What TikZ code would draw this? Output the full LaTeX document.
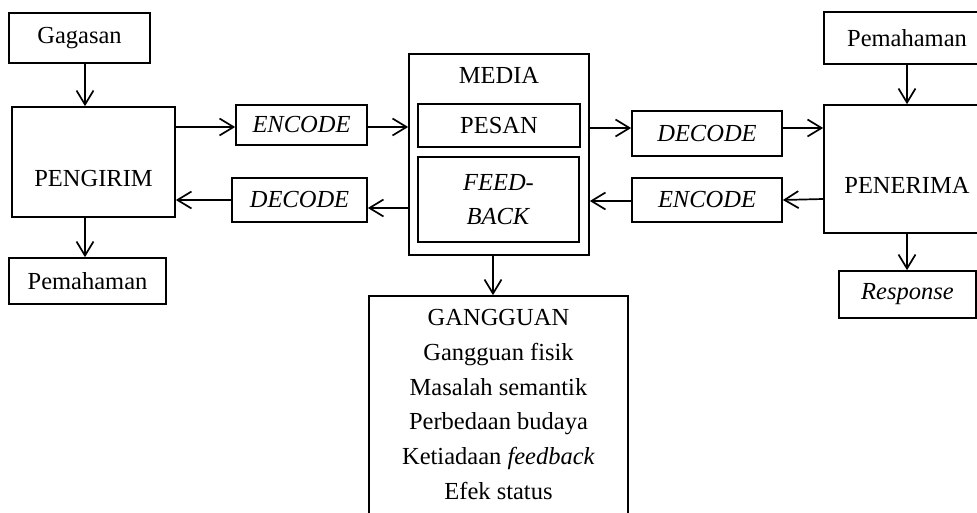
\documentclass[tikz,border=0pt]{standalone}
\usepackage{fontspec}
\setmainfont{Liberation Serif}
\usetikzlibrary{arrows.meta}

\begin{document}
\begin{tikzpicture}[x=1pt,y=-1pt,
            every node/.style={font=\fontsize{24.5}{34.8}\selectfont},
            kotak/.style={draw, line width=1.7pt, inner sep=0pt, align=center},
            panah/.style={-{Straight Barb[length=14pt,width=17pt]}, line width=1.7pt}]
            \path[fill=white, use as bounding box] (0,0) rectangle (977,513);
            \clip (0,0) rectangle (977,513);
            % pengirim
            \node at (79.5,38) [kotak, minimum width=141pt, minimum height=50pt] (gagasan) {Gagasan};
            \node at (93.5,162) [kotak, minimum width=163pt, minimum height=110pt, label={[yshift=-16.5pt]center:PENGIRIM}] (pengirim) {};
            \node at (87.5,281) [kotak, minimum width=157pt, minimum height=46pt] (pemahaman1) {Pemahaman};
            \node at (301.5,125) [kotak, minimum width=131pt, minimum height=40pt] (encode1) {\textit{ENCODE}};
            \node at (299.5,200) [kotak, minimum width=135pt, minimum height=44pt] (decode1) {\textit{DECODE}};
            % media
            \node at (499,154.5) [kotak, minimum width=180pt, minimum height=201pt, label={[anchor=north, yshift=-14pt, inner sep=0pt]north:MEDIA}] (media) {};
            \node at (499,125.5) [kotak, minimum width=162pt, minimum height=43pt] (pesan) {PESAN};
            \node at (498.5,199.5) [kotak, minimum width=161pt, minimum height=85pt] (feedback) {\textit{FEED-}\\\textit{BACK}};
            \node at (498.5,418) [kotak, minimum width=259pt, minimum height=244pt, label={[anchor=north, yshift=-14pt, inner sep=0pt, align=center]north:GANGGUAN\\Gangguan fisik\\Masalah semantik\\Perbedaan budaya\\Ketiadaan \textit{feedback}\\Efek status}] (gangguan) {};
            % penerima
            \node at (707,133.5) [kotak, minimum width=150pt, minimum height=45pt] (decode2) {\textit{DECODE}};
            \node at (707,200) [kotak, minimum width=150pt, minimum height=44pt] (encode2) {\textit{ENCODE}};
            \node at (907,38) [kotak, minimum width=166pt, minimum height=52pt] (pemahaman2) {Pemahaman};
            \node at (907,169) [kotak, minimum width=166pt, minimum height=128pt, label={[yshift=-16pt]center:PENERIMA}] (penerima) {};
            \node at (907.5,294.5) [kotak, minimum width=137pt, minimum height=47pt] (response) {\textit{Response}};
            % panah
            \draw[panah] ([xshift=5.5pt]gagasan.south) -- ([xshift=-8.5pt]pengirim.north);
            \draw[panah] ([xshift=-8.5pt]pengirim.south) -- ([xshift=-2.5pt]pemahaman1.north);
            \draw[panah] ([yshift=35pt]pengirim.east) -- ([yshift=-2pt]encode1.west);
            \draw[panah] ([yshift=-2pt]encode1.east) -- ([yshift=27.5pt]media.west);
            \draw[panah] ([yshift=-53.5pt]media.west) -- ([yshift=-8pt]decode1.east);
            \draw[panah] (decode1.west) -- ([yshift=-38pt]pengirim.east);
            \draw[panah] ([yshift=26.5pt]media.east) -- ([yshift=5.5pt]decode2.west);
            \draw[panah] ([yshift=5.5pt]decode2.east) -- ([yshift=41pt]penerima.west);
            \draw[panah] ([yshift=-30pt]penerima.west) -- (encode2.east);
            \draw[panah] ([yshift=-1pt]encode2.west) -- ([yshift=-46.5pt]media.east);
            \draw[panah] ([xshift=-6pt]media.south) -- ([xshift=-5.5pt]gangguan.north);
            \draw[panah] (pemahaman2.south) -- (penerima.north);
            \draw[panah] (penerima.south) -- ([xshift=-0.5pt]response.north);
        \end{tikzpicture}
\end{document}
